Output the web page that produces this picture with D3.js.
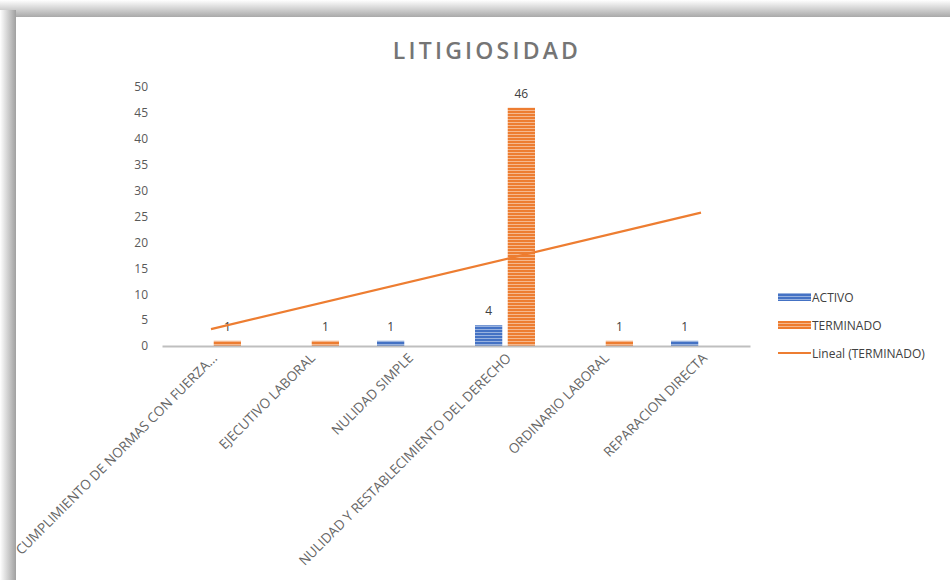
<!DOCTYPE html>
<html><head><meta charset="utf-8">
<script src="https://cdn.jsdelivr.net/npm/d3@7/dist/d3.min.js"></script>
<style>html,body{margin:0;padding:0;background:#fff;}svg{display:block;}</style>
</head><body><svg id="chart" width="950" height="580"></svg>
<script>
const categories = ["CUMPLIMIENTO DE NORMAS CON FUERZA...","EJECUTIVO LABORAL","NULIDAD SIMPLE","NULIDAD Y RESTABLECIMIENTO DEL DERECHO","ORDINARIO LABORAL","REPARACION DIRECTA"];
const activo = [null, null, 1, 4, null, 1];
const terminado = [1, 1, null, 46, 1, null];
const yTicks = [0,5,10,15,20,25,30,35,40,45,50];
const seriesNames = ["ACTIVO","TERMINADO"];
const trendName = "Lineal (TERMINADO)";
const title = "LITIGIOSIDAD";

const svg = d3.select("#chart");
const defs = svg.append("defs");
const gTop = defs.append("linearGradient").attr("id","gTop").attr("x1",0).attr("y1",0).attr("x2",0).attr("y2",1);
gTop.append("stop").attr("offset","0%").attr("stop-color","#ffffff");
gTop.append("stop").attr("offset","100%").attr("stop-color","#a9a9a9");
const gLeft = defs.append("linearGradient").attr("id","gLeft").attr("x1",0).attr("y1",0).attr("x2",1).attr("y2",0);
gLeft.append("stop").attr("offset","0%").attr("stop-color","#ffffff");
gLeft.append("stop").attr("offset","100%").attr("stop-color","#a0a0a0");
svg.append("rect").attr("x",0).attr("y",0).attr("width",950).attr("height",17).attr("fill","url(#gTop)");
svg.append("rect").attr("x",0).attr("y",10).attr("width",16).attr("height",570).attr("fill","url(#gLeft)");
svg.append("rect").attr("x",16).attr("y",17).attr("width",934).attr("height",563).attr("fill","#fff");

const colors = {ACTIVO:"#4472C4", TERMINADO:"#ED7D31"};
function pat(id, base){
  const p = defs.append("pattern").attr("id",id).attr("patternUnits","userSpaceOnUse").attr("width",6).attr("height",3);
  p.append("rect").attr("width",6).attr("height",3).attr("fill",base);
  p.append("rect").attr("y",2).attr("width",6).attr("height",1).attr("fill","#ffffff").attr("opacity",0.45);
}
pat("pA", colors.ACTIVO); pat("pT", colors.TERMINADO);
const fills = {ACTIVO:"url(#pA)", TERMINADO:"url(#pT)"};

const x0 = d3.scaleBand().domain(categories).range([162,750]);
const x1 = d3.scaleBand().domain(seriesNames).range([x0.bandwidth()/2-30, x0.bandwidth()/2+30]).paddingInner(0.1667);
const y = d3.scaleLinear().domain([0,50]).range([346,87]);

svg.append("text").attr("x",487).attr("y",59).attr("text-anchor","middle")
  .attr("font-family","'Open Sans', sans-serif").attr("font-size",23).attr("font-weight",600)
  .attr("letter-spacing",3.2).attr("fill","#757575").text(title);

const yAxis = d3.axisLeft(y).tickValues(yTicks).tickSize(0).tickPadding(0);
const ya = svg.append("g").attr("transform","translate(148,0)").call(yAxis);
ya.select(".domain").remove();
ya.selectAll("text").attr("font-family","'Open Sans', sans-serif").attr("font-size",12).attr("fill","#595959");

const data = [{name:"ACTIVO", values:activo},{name:"TERMINADO", values:terminado}];
data.forEach(s=>{
  categories.forEach((c,i)=>{
    const v = s.values[i];
    if(v==null) return;
    const bx = x0(c)+x1(s.name);
    svg.append("rect").attr("x",bx).attr("y",y(v)).attr("width",x1.bandwidth()).attr("height",y(0)-y(v)).attr("fill",fills[s.name]);
    svg.append("text").attr("x",bx+x1.bandwidth()/2).attr("y",y(v)-10).attr("text-anchor","middle")
      .attr("font-family","'Open Sans', sans-serif").attr("font-size",12).attr("fill","#404040").text(v);
  });
});

const xAxis = d3.axisBottom(x0).tickSize(0).tickPadding(0);
const xa = svg.append("g").attr("transform","translate(0,346)").call(xAxis);
xa.select(".domain").attr("stroke","#BFBFBF").attr("stroke-width",2);
xa.selectAll("text").attr("font-family","'Open Sans', sans-serif").attr("font-size",13.5).attr("fill","#666666")
  .attr("text-anchor","end").attr("dy",0)
  .attr("transform","translate(7,13) rotate(-45)");

// trendline (least squares over non-empty TERMINADO points)
const pts = terminado.map((v,i)=>({i, v})).filter(d=>d.v!=null);
const mx = d3.mean(pts,d=>d.i), my = d3.mean(pts,d=>d.v);
const slope = d3.sum(pts,d=>(d.i-mx)*(d.v-my))/d3.sum(pts,d=>(d.i-mx)*(d.i-mx));
const icpt = my - slope*mx;
const cx = i => x0(categories[i]) + x0.bandwidth()/2;
const trend = [0, categories.length-1].map(i=>[cx(i), y(icpt+slope*i)]);
svg.append("path").attr("d",d3.line()(trend)).attr("stroke",colors.TERMINADO).attr("stroke-width",2.2).attr("fill","none");

const lg = svg.append("g");
const items = [{n:"ACTIVO",t:"bar"},{n:"TERMINADO",t:"bar"},{n:trendName,t:"line"}];
items.forEach((it,k)=>{
  const ly = 297 + k*28;
  if(it.t==="bar") lg.append("rect").attr("x",778).attr("y",ly-4).attr("width",33).attr("height",8).attr("fill",fills[it.n]);
  else lg.append("line").attr("x1",778).attr("x2",811).attr("y1",ly).attr("y2",ly).attr("stroke",colors.TERMINADO).attr("stroke-width",2.2);
  lg.append("text").attr("x",812).attr("y",ly+4.5).attr("font-family","'Open Sans', sans-serif").attr("font-size",12).attr("fill","#404040").text(it.n);
});
</script></body></html>
